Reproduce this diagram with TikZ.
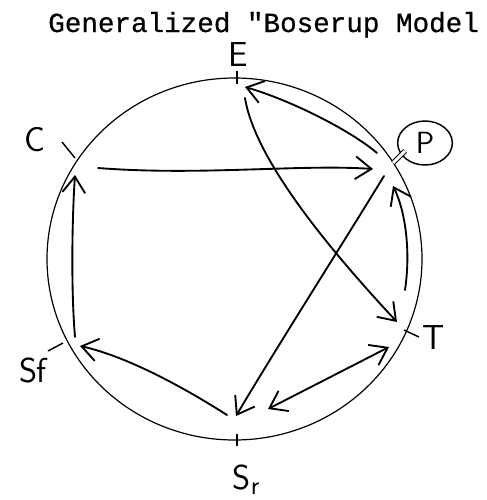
\documentclass[tikz,border=0pt]{standalone}
\usepackage{fontspec}
\newfontfamily\typew[FakeBold=0.6]{Liberation Mono}
\usetikzlibrary{arrows.meta,shapes.geometric}
\begin{document}
\begin{tikzpicture}[x=0.75pt,y=-0.75pt,
  conn/.style={line width=1.4pt, line cap=round, -{Straight Barb[length=12pt,width=17pt,line width=1.4pt]}},
  twoway/.style={line width=1.4pt, line cap=round, {Straight Barb[length=12pt,width=17pt,line width=1.4pt]}-{Straight Barb[length=12pt,width=17pt,line width=1.4pt]}},
  lbl/.style={font=\sffamily\fontsize{26}{26}\selectfont, inner sep=0pt},
  tickmark/.style={line width=1.1pt}]
\useasboundingbox (0,0) rectangle (486,500);
\fill[white] (0,0) rectangle (486,500);
% title
\node[font=\typew\fontsize{20.7}{22}\selectfont, anchor=base west, inner sep=0pt] (title) at (48,32) {Generalized \symbol{34}Boserup Model};
% big circle
\draw[line width=0.9pt] (234.5,259) ellipse [x radius=187.5, y radius=181];
% labels
\node[lbl] (E) at (238,55) {E};
\node[lbl] (C) at (35,140) {C};
\node[lbl] (T) at (434,338) {T};
\node[lbl] (Sf) at (33,370) {S\kern-1pt f};
\node[lbl] (Sr) at (246,480) {S\raisebox{-4pt}{\fontsize{20}{20}\selectfont r}};
\node[draw, ellipse, line width=1.1pt, minimum width=41pt, minimum height=33pt, inner sep=0pt, font=\sffamily\fontsize{23}{23}\selectfont] (P) at (425,143) {P};
% ticks
\coordinate (Et1) at (237,71); \coordinate (Et2) at (237,84);
\coordinate (Ct1) at (62,142); \coordinate (Ct2) at (75,158);
\coordinate (Tt1) at (404,330); \coordinate (Tt2) at (419,337);
\coordinate (Sft1) at (48,351); \coordinate (Sft2) at (63,343);
\coordinate (Srt1) at (237,434); \coordinate (Srt2) at (237,446);
\coordinate (Pt1) at (393,163); \coordinate (Pt2) at (405,151);
\draw[tickmark] (Et1) -- (Et2);
\draw[tickmark] (Ct1) -- (Ct2);
\draw[tickmark] (Tt1) -- (Tt2);
\draw[tickmark] (Sft1) -- (Sft2);
\draw[tickmark] (Srt1) -- (Srt2);
\draw[double, line width=0.8pt, double distance=2.2pt] (Pt1) -- (Pt2);
% arrow endpoints
\coordinate (Cout) at (98,168);
\coordinate (Cin) at (75,175);
\coordinate (Pin) at (373,169);
\coordinate (Pout) at (384,176);
\coordinate (Pout2) at (377,153);
\coordinate (Pin2) at (393,186);
\coordinate (Ein) at (245,87);
\coordinate (Eout) at (245,98);
\coordinate (Tin) at (397,322);
\coordinate (Tout) at (405,290);
\coordinate (Tboth) at (389,347);
\coordinate (Srin) at (236,416);
\coordinate (Srout) at (227,415);
\coordinate (Srboth) at (268,409);
\coordinate (Sfin) at (80,346);
\coordinate (Sfout) at (75,337);
% arrows
\draw[conn] (Cout) .. controls (200,176) and (300,164) .. (Pin);
\draw[conn] (Sfout) .. controls (71,290) and (72,220) .. (Cin);
\draw[conn] (Srout) .. controls (180,385) and (125,356) .. (Sfin);
\draw[twoway] (Srboth) -- (Tboth);
\draw[conn] (Pout) .. controls (345,240) and (275,350) .. (Srin);
\draw[conn] (Eout) .. controls (255,160) and (330,250) .. (Tin);
\draw[conn] (Pout2) .. controls (350,130) and (290,100) .. (Ein);
\draw[conn] (Tout) .. controls (411,250) and (405,210) .. (Pin2);
\end{tikzpicture}
\end{document}
